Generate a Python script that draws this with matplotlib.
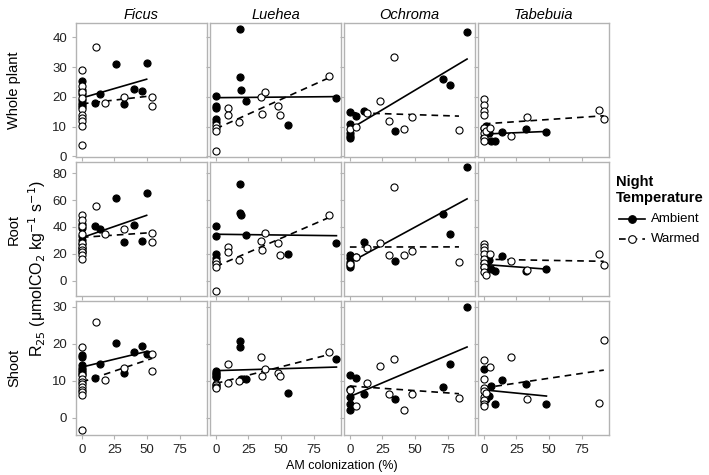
import numpy as np
import matplotlib
matplotlib.use("Agg")
import matplotlib.pyplot as plt
from matplotlib.lines import Line2D

plt.rcParams['font.family'] = ['Liberation Sans', 'DejaVu Sans']

species = ["Ficus", "Luehea", "Ochroma", "Tabebuia"]
responses = ["Whole plant", "Root", "Shoot"]
treatments = ["Ambient", "Warmed"]

# AM colonization (%) per species and night temperature
ficus_amb_x = [0, 0, 0, 0, 0, 0, 0, 10.3, 14.2, 26.5, 32.7, 40, 46.4, 49.7]
ficus_war_x = [0, 0, 0, 0, 0, 0, 0, 0, 0, 0, 11, 17.5, 32.7, 54, 54]
luehea_amb_x = [0, 0, 0, 0, 0, 18.3, 18.8, 19.5, 23.5, 55.5, 92.5]
luehea_war_x = [0, 0, 0, 0, 9.5, 9.5, 17.5, 34.9, 35.1, 37.7, 48, 49.3, 86.5]
ochroma_amb_x = [0, 0, 0, 0, 0, 4.4, 11.1, 34.9, 71.6, 77, 89.9]
ochroma_war_x = [0, 4.4, 13.4, 23.3, 30.2, 33.9, 41.6, 47.3, 83.7]
tabebuia_amb_x = [0, 0, 2, 4.1, 5.4, 8.5, 13.6, 32.6, 48]
tabebuia_war_x = [0, 0, 0, 0, 0, 0, 0, 0, 2, 4.6, 20.9, 32.8, 88, 92]

# R25 whole plant
ficus_amb_whole = [25.2, 22.2, 21.1, 18.9, 17.8, 17.2, 16.7, 17.8, 21.1, 30.9, 17.6, 22.8, 21.9, 31.4]
ficus_war_whole = [28.9, 23.5, 21.5, 19.5, 16, 14, 12.8, 11.8, 10.2, 3.9, 36.7, 17.8, 19.8, 20, 16.9]
luehea_amb_whole = [20.2, 16.9, 16.1, 12.4, 11.7, 42.9, 26.6, 22.4, 18.6, 10.4, 19.6]
luehea_war_whole = [10.5, 9.4, 8.6, 1.9, 16.4, 13.8, 11.6, 19.8, 14.2, 21.6, 16.8, 13.8, 27]
ochroma_amb_whole = [15, 10.9, 7.9, 6.9, 6.1, 13.7, 15.1, 8.6, 26.1, 24, 41.9]
ochroma_war_whole = [9.2, 9.8, 14.6, 18.6, 12, 33.4, 9.1, 13.1, 8.7]
tabebuia_amb_whole = [9.5, 6.5, 10.1, 7.9, 5.1, 5.1, 8.1, 9.1, 8.2]
tabebuia_war_whole = [19.4, 17.1, 15.2, 13.9, 9.4, 7.9, 6.2, 5.1, 8.5, 9.4, 6.8, 13.2, 15.5, 12.5]

# R25 root
ficus_amb_root = [42, 39, 33, 30, 27, 24, 21, 40.5, 38.25, 62, 28.75, 41.75, 29.75, 65]
ficus_war_root = [49, 45, 41, 35, 28, 25, 23, 21, 19, 16, 55.75, 34.75, 38.75, 35.25, 28.75]
luehea_amb_root = [40.5, 33, 20, 17, 14, 71.75, 50.75, 48.75, 33.75, 20, 28.25]
luehea_war_root = [14.25, 12.5, 10, -7.5, 25, 21.25, 15, 29.25, 23, 35.75, 28, 19.25, 49.25]
ochroma_amb_root = [18.75, 16.75, 14, 12, 10, 17.5, 28.75, 14.25, 50, 34.5, 84.5]
ochroma_war_root = [12.5, 17.5, 24.25, 27.75, 19.25, 69.75, 19.25, 21.75, 13.75]
tabebuia_amb_root = [13, 10, 11.25, 15, 9, 7.5, 18.25, 7.5, 8.75]
tabebuia_war_root = [27.5, 25, 22.5, 19.5, 16.25, 13.25, 10, 6.75, 4.25, 19.5, 14.25, 8.25, 20, 12]

# R25 shoot
ficus_amb_shoot = [17.1, 16.5, 14.4, 13.6, 12.9, 11.8, 12.3, 10.9, 14.7, 20.3, 12.1, 17.8, 19.5, 17.2]
ficus_war_shoot = [19.2, 11.5, 10.6, 9.8, 9.3, 8.4, 7.5, 7, 6.2, -3.2, 26, 10.2, 13.4, 17.2, 12.6]
luehea_amb_shoot = [12.6, 12.2, 11.8, 11.4, 11, 20.8, 19.2, 10.6, 10.6, 6.8, 16]
luehea_war_shoot = [9.3, 8.8, 8.4, 8.0, 14.5, 9.5, 9.9, 16.5, 11.3, 13.3, 12.2, 11.3, 17.7]
ochroma_amb_shoot = [11.7, 7.9, 5.7, 3.9, 2.1, 10.8, 6.4, 5, 8.4, 14.7, 30]
ochroma_war_shoot = [7.5, 3.2, 9.5, 14.1, 6.6, 15.8, 2.1, 6.6, 5.4]
tabebuia_amb_shoot = [13.2, 4.5, 5, 5.9, 8.6, 3.8, 10.2, 9.2, 3.9]
tabebuia_war_shoot = [15.6, 10.4, 8.1, 7.2, 5.7, 4.8, 3.9, 3.2, 6.8, 13.8, 16.5, 5, 4.1, 21]

x_data = {
    "Ficus": (ficus_amb_x, ficus_war_x),
    "Luehea": (luehea_amb_x, luehea_war_x),
    "Ochroma": (ochroma_amb_x, ochroma_war_x),
    "Tabebuia": (tabebuia_amb_x, tabebuia_war_x),
}
y_data = {
    ("Whole plant", "Ficus"): (ficus_amb_whole, ficus_war_whole),
    ("Whole plant", "Luehea"): (luehea_amb_whole, luehea_war_whole),
    ("Whole plant", "Ochroma"): (ochroma_amb_whole, ochroma_war_whole),
    ("Whole plant", "Tabebuia"): (tabebuia_amb_whole, tabebuia_war_whole),
    ("Root", "Ficus"): (ficus_amb_root, ficus_war_root),
    ("Root", "Luehea"): (luehea_amb_root, luehea_war_root),
    ("Root", "Ochroma"): (ochroma_amb_root, ochroma_war_root),
    ("Root", "Tabebuia"): (tabebuia_amb_root, tabebuia_war_root),
    ("Shoot", "Ficus"): (ficus_amb_shoot, ficus_war_shoot),
    ("Shoot", "Luehea"): (luehea_amb_shoot, luehea_war_shoot),
    ("Shoot", "Ochroma"): (ochroma_amb_shoot, ochroma_war_shoot),
    ("Shoot", "Tabebuia"): (tabebuia_amb_shoot, tabebuia_war_shoot),
}

y_ticks = {"Whole plant": [0, 10, 20, 30, 40], "Root": [0, 20, 40, 60, 80], "Shoot": [0, 10, 20, 30]}
y_lims = {"Whole plant": (-0.2, 44.8), "Root": (-11.5, 88.5), "Shoot": (-4.6, 31.6)}
x_ticks = [0, 25, 50, 75]

W, H = 709, 475
fig = plt.figure(figsize=(W / 100, H / 100), dpi=100)

col_left = [76, 210, 344, 478]
row_top = [23, 162, 301]
pw, ph = 131, 134
border = "#b3b3b3"

for r, resp in enumerate(responses):
    for c, sp in enumerate(species):
        ax = fig.add_axes([col_left[c] / W, 1 - (row_top[r] + ph) / H, pw / W, ph / H])
        xa, xw = x_data[sp]
        ya, yw = y_data[(resp, sp)]
        for xs, ys, filled, ls in [(xa, ya, True, "-"), (xw, yw, False, (0, (4, 3)))]:
            xs = np.array(xs, float)
            ys = np.array(ys, float)
            ax.scatter(xs, ys, s=26, facecolor="black" if filled else "white",
                       edgecolor="black", linewidth=0.8, zorder=3)
            # linear fit over the group's own x range
            k, b = np.polyfit(xs, ys, 1)
            xx = np.array([xs.min(), xs.max()])
            ax.plot(xx, k * xx + b, color="black", lw=1.2, ls=ls, zorder=2)
        ax.set_xlim(-4.5, 96)
        ax.set_ylim(*y_lims[resp])
        ax.set_xticks(x_ticks)
        ax.set_yticks(y_ticks[resp])
        for s in ax.spines.values():
            s.set_color(border)
            s.set_linewidth(1.0)
        ax.tick_params(colors=border, labelcolor="#222222", length=3, width=0.8, labelsize=9.5)
        if c > 0:
            ax.set_yticklabels([])
        if r < 2:
            ax.set_xticklabels([])
        if r == 0:
            ax.set_title(sp, fontstyle="italic", fontsize=10.5, pad=3)
        if c == 0:
            fig.text(14 / W, 1 - (row_top[r] + ph / 2) / H, resp, rotation=90,
                     ha="center", va="center", fontsize=10.5)

fig.text(37 / W, 1 - 268 / H, r"R$_{25}$ ($\mathregular{\mu}$molCO$_2$ kg$^{-1}$ s$^{-1}$)",
         rotation=90, ha="center", va="center", fontsize=11.5)
fig.text(342 / W, 1 - 466 / H, "AM colonization (%)", ha="center", va="center", fontsize=9)

# legend
fig.text(616 / W, 1 - 190 / H, "Night\nTemperature", fontweight="bold", fontsize=10.5,
         ha="left", va="center", linespacing=1.2)
for i, (lab, filled, ls) in enumerate([("Ambient", True, "-"), ("Warmed", False, (0, (4, 3)))]):
    yy = 1 - (219 + 20 * i) / H
    fig.add_artist(Line2D([619 / W, 645 / W], [yy, yy], color="black", lw=1.2, ls=ls))
    fig.add_artist(Line2D([632 / W], [yy], marker="o", markersize=5.5,
                          markerfacecolor="black" if filled else "white",
                          markeredgecolor="black", markeredgewidth=0.8))
    fig.text(651 / W, yy, lab, ha="left", va="center", fontsize=9.5)

fig.savefig("out.png", dpi=100)
